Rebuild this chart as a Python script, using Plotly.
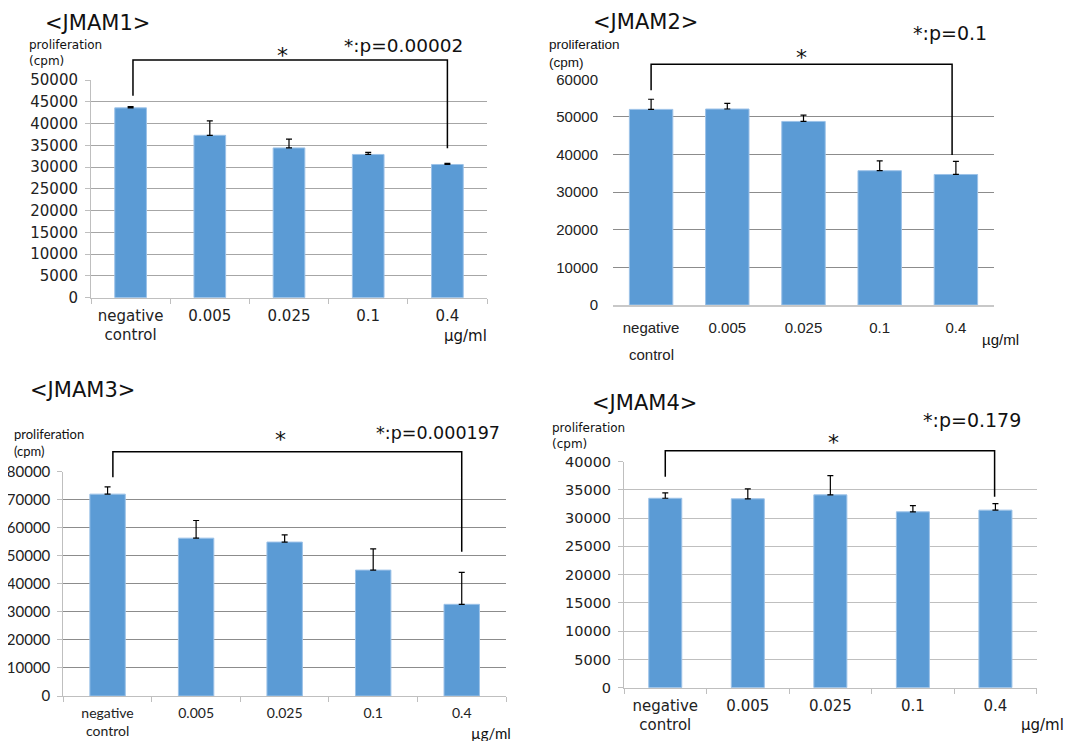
import plotly.graph_objects as go

# ---------------- data ----------------
categories = ["negative<br>control", "0.005", "0.025", "0.1", "0.4"]
categories_p2 = ["negative", "0.005", "0.025", "0.1", "0.4"]

jmam1_values = [43600, 37300, 34400, 32900, 30600]
jmam1_errors = [300, 3300, 2000, 460, 250]
jmam2_values = [52000, 52100, 48800, 35700, 34700]
jmam2_errors = [2700, 1500, 1700, 2600, 3500]
jmam3_values = [72000, 56300, 54900, 44900, 32700]
jmam3_errors = [2600, 6300, 2600, 7600, 11400]
jmam4_values = [33500, 33400, 34100, 31100, 31400]
jmam4_errors = [950, 1750, 3400, 1100, 1150]

titles = ["<JMAM1>", "<JMAM2>", "<JMAM3>", "<JMAM4>"]
p_labels = ["*:p=0.00002", "*:p=0.1", "*:p=0.000197", "*:p=0.179"]
y_label = "proliferation<br>(cpm)"
unit_label = "µg/ml"

# ---------------- layout helpers ----------------
# The page body has an 8px margin; positions below are given in window pixels.
OFF = 8
W, H = 1072, 741
BAR = "#5b9bd5"
FV = "DejaVu Sans"
FA = "Liberation Sans"
FC = "Lato"


def px(x):
    return (x - OFF) / W


def py(y):
    return 1 - (y - OFF) / H


def dx(l, r):
    return [px(l), px(r)]


def dy(t, b):
    return [py(b), py(t)]


fig = go.Figure()

panels = [
    dict(vals=jmam1_values, errs=jmam1_errors, box=(91, 80, 487, 297.7), ymax=50000, dtick=5000,
         width=0.4, grid="#a6a6a6", line="#bfbfbf", ticks=True, tfont=FV, tsize=15, xsize=15,
         standoff=4),
    dict(vals=jmam2_values, errs=jmam2_errors, box=(613, 79.3, 994, 305), ymax=60000, dtick=10000,
         width=0.57, grid="#8c8c8c", line="#c8c8c8", ticks=False, tfont=FA, tsize=15, xsize=15,
         standoff=8),
    dict(vals=jmam3_values, errs=jmam3_errors, box=(63.3, 471.7, 506, 696), ymax=80000, dtick=10000,
         width=0.4, grid="#8c8c8c", line="#bfbfbf", ticks=True, tfont=FC, tsize=15, xsize=14,
         standoff=4),
    dict(vals=jmam4_values, errs=jmam4_errors, box=(624, 461.5, 1036.7, 687.7), ymax=40000, dtick=5000,
         width=0.4, grid="#bfbfbf", line="#bfbfbf", ticks=True, tfont=FV, tsize=14.5, xsize=15,
         standoff=4),
]

for i, p in enumerate(panels):
    n = i + 1
    xa = "x" if n == 1 else f"x{n}"
    ya = "y" if n == 1 else f"y{n}"
    fig.add_trace(go.Bar(
        x=categories, y=p["vals"], xaxis=xa, yaxis=ya, width=p["width"],
        marker=dict(color=BAR, line=dict(color="#9cc2e8", width=1)),
        error_y=dict(type="data", array=p["errs"], arrayminus=[0] * len(p["errs"]),
                     symmetric=False, color="black", thickness=1.2, width=3),
        showlegend=False, hoverinfo="skip",
    ))
    l, t, r, b = p["box"]
    xkw = dict(domain=dx(l, r), anchor=ya, type="category", range=[-0.5, 4.5],
               automargin=False,
               showline=True, linecolor=p["line"], linewidth=2 if n == 2 else 1,
               showgrid=False, zeroline=False,
               tickfont=dict(family=p["tfont"], size=p["xsize"], color="#222"),
               ticklabelstandoff=p["standoff"])
    if p["ticks"]:
        xkw.update(ticks="outside", tickson="boundaries", ticklen=5, tickcolor=p["line"])
    else:
        xkw.update(ticks="")
    if n == 2:
        xkw.update(tickmode="array", tickvals=categories, ticktext=categories_p2)
    ykw = dict(domain=dy(t, b), anchor=xa, range=[0, p["ymax"]], dtick=p["dtick"], tick0=0,
               automargin=False,
               tickformat="d", showgrid=True, gridcolor=p["grid"], gridwidth=1,
               zeroline=False, showline=p["ticks"], linecolor=p["line"],
               tickfont=dict(family=p["tfont"], size=p["tsize"], color="#222"))
    if p["ticks"]:
        ykw.update(ticks="outside", ticklen=5, tickcolor=p["line"], ticklabelstandoff=4)
    else:
        ykw.update(ticks="", ticklabelstandoff=14)
    fig.update_layout(**{("xaxis" if n == 1 else f"xaxis{n}"): xkw,
                         ("yaxis" if n == 1 else f"yaxis{n}"): ykw})

# ---------------- brackets (in axis-domain units) ----------------
# (x_left_cat, x_right_cat, top, left_bottom, right_bottom)
brackets = [
    (0.03, 4.0, 1.092, 0.928, 0.686),
    (0.0, 3.95, 1.0665, 0.952, 0.665),
    (0.06, 4.0, 1.089, 0.975, 0.643),
    (0.0, 3.99, 1.048, 0.933, 0.844),
]
for i, (xl, xr, top, lb, rb) in enumerate(brackets):
    n = i + 1
    xr_ = "x domain" if n == 1 else f"x{n} domain"
    yr_ = "y domain" if n == 1 else f"y{n} domain"
    fl = (xl + 0.5) / 5
    fr = (xr + 0.5) / 5
    fig.add_shape(type="path", xref=xr_, yref=yr_,
                  path=f"M {fl} {lb} L {fl} {top} L {fr} {top} L {fr} {rb}",
                  line=dict(color="black", width=1.5))

# ---------------- text ----------------
ann = []


def add(text, x, y, size, family=FV, xanchor="center", yanchor="middle", color="#111"):
    ann.append(dict(text=text, x=px(x), y=py(y), xref="paper", yref="paper",
                    xanchor=xanchor, yanchor=yanchor, showarrow=False,
                    font=dict(family=family, size=size, color=color), align="left"))


# titles
add(titles[0], 97, 23, 21)
add(titles[1], 645, 22, 21)
add(titles[2], 82.5, 390, 21)
add(titles[3], 644, 403, 21)

# y labels
add(y_label, 27, 53, 12, FV, xanchor="left")
add(y_label, 547, 53, 13.5, FA, xanchor="left")
add(y_label, 12, 442, 13, FC, xanchor="left")
add(y_label, 550, 436, 12, FV, xanchor="left")

# stars
add("*", 282, 55, 22)
add("*", 801.7, 58, 22)
add("*", 280, 440, 22)
add("*", 833, 442, 22)

# p values
add(p_labels[0], 403, 45, 18.5)
add(p_labels[1], 950, 33, 19)
add(p_labels[2], 438, 433, 17.5)
add(p_labels[3], 972, 420, 19)

# units
add(unit_label, 465, 336, 15, FV)
add(unit_label, 1000.5, 339, 15, FA)
add(unit_label, 490.5, 733, 15, FC)
add(unit_label, 1042, 725, 15, FV)

# second line of panel 2's first category label
add("control", 651, 354, 15, FA, color="#222")

fig.update_layout(
    width=W, height=H, margin=dict(l=0, r=0, t=0, b=0),
    paper_bgcolor="white", plot_bgcolor="white",
    annotations=ann, bargap=0.6,
)

fig.write_html("out.html")
